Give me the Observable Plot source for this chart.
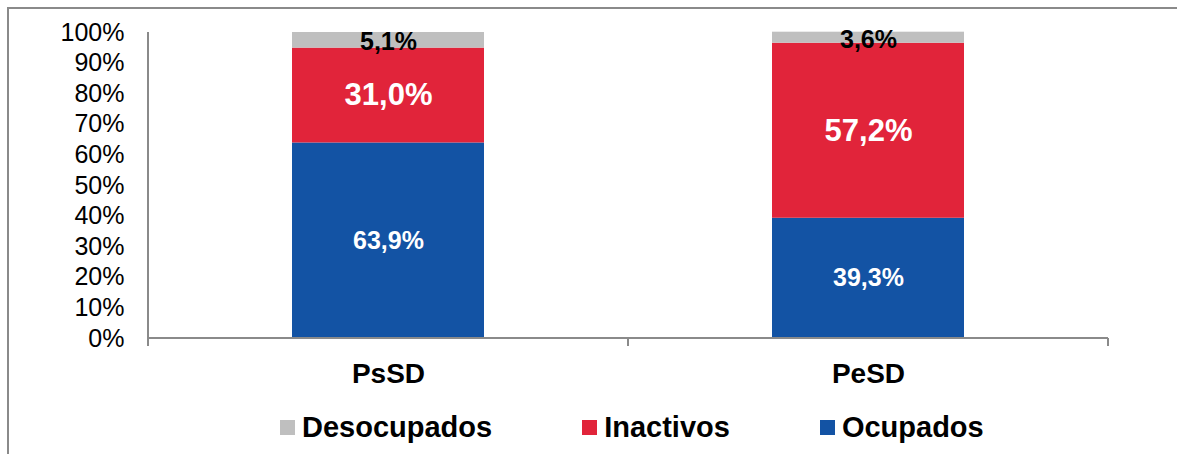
<!DOCTYPE html>
<html>
<head>
<meta charset="utf-8">
<script src="https://cdn.jsdelivr.net/npm/d3@7"></script>
<script src="https://cdn.jsdelivr.net/npm/@observablehq/plot@0.6"></script>
<style>
  html, body { margin: 0; padding: 0; background: #fff; }
  #wrap { position: relative; width: 1177px; height: 454px; overflow: hidden; font-family: "Liberation Sans", Arial, sans-serif; }
  #frame { position: absolute; left: 7px; top: 7px; width: 2000px; height: 2000px; border-left: 2px solid #8a8a8a; border-top: 2px solid #8a8a8a; }
  #chart { position: absolute; left: 0; top: 0; }
  #legend { position: absolute; left: 280px; top: 413px; display: flex; gap: 90px; font-weight: bold; font-size: 29px; line-height: 29px; color: #000; }
  .item { display: flex; align-items: center; }
  .sw { width: 15px; height: 15px; margin-right: 7px; }
</style>
</head>
<body>
<div id="wrap">
  <div id="frame"></div>
  <div id="chart"></div>
  <div id="legend"></div>
</div>
<script>
const categories = ["PsSD", "PeSD"];
const series = ["Desocupados", "Inactivos", "Ocupados"];
const ocupados = [63.9, 39.3];
const inactivos = [31.0, 57.2];
const desocupados = [5.1, 3.6];
const yTicks = [0, 10, 20, 30, 40, 50, 60, 70, 80, 90, 100];
const colors = ["#BFBFBF", "#E1243A", "#1353A4"];

const stackOrder = ["Ocupados", "Inactivos", "Desocupados"];
const valuesBySeries = { Ocupados: ocupados, Inactivos: inactivos, Desocupados: desocupados };
const data = [];
categories.forEach((c, i) => {
  stackOrder.forEach(s => data.push({ cat: c, series: s, value: valuesBySeries[s][i] }));
});
const fmt = v => v.toFixed(1).replace(".", ",") + "%";
const axisColor = "#8a8a8a";

const W = 1177, H = 400;
const plot = Plot.plot({
  width: W,
  height: H,
  marginLeft: 148,
  marginRight: 69,
  marginTop: 32,
  marginBottom: 62,
  style: { fontFamily: "'Liberation Sans', Arial, sans-serif", background: "transparent", color: "#000" },
  x: { domain: categories, paddingInner: 0.6, paddingOuter: 0.3, label: null },
  y: { domain: [0, 100], label: null },
  color: { domain: series, range: colors },
  marks: [
    Plot.barY(data, Plot.stackY({ x: "cat", y: "value", z: "series", fill: "series", order: stackOrder })),
    Plot.text(data, Plot.stackY({
      x: "cat", y: "value", z: "series", order: stackOrder,
      text: d => d.series === "Desocupados" ? fmt(d.value) : "",
      fill: "#000", fontWeight: "bold", fontSize: 25, dy: 2
    })),
    Plot.text(data, Plot.stackY({
      x: "cat", y: "value", z: "series", order: stackOrder,
      text: d => d.series !== "Desocupados" ? fmt(d.value) : "",
      fill: "#fff", fontWeight: "bold",
      fontSize: d => d.series === "Inactivos" ? 31 : 25
    })),
    Plot.axisY({ ticks: yTicks, tickFormat: d => d + "%", tickSize: 0, tickPadding: 24, fontSize: 25, label: null }),
    Plot.axisX({ tickSize: 0, tickPadding: 25, fontSize: 28, fontWeight: "bold", label: null }),
    (index, scales, values, dims) => {
      const g = d3.create("svg:g").attr("stroke", axisColor).attr("stroke-width", 2).attr("fill", "none");
      const x0 = dims.marginLeft, x1 = dims.width - dims.marginRight;
      const y0 = scales.y(0), yTop = scales.y(100);
      g.append("line").attr("x1", x0).attr("x2", x0).attr("y1", yTop).attr("y2", y0 + 8);
      g.append("line").attr("x1", x0).attr("x2", x1).attr("y1", y0).attr("y2", y0);
      const n = categories.length;
      for (let i = 0; i <= n; i++) {
        const xx = x0 + (x1 - x0) * i / n;
        g.append("line").attr("x1", xx).attr("x2", xx).attr("y1", y0).attr("y2", y0 + 8);
      }
      return g.node();
    }
  ]
});
document.getElementById("chart").appendChild(plot);

const legend = document.getElementById("legend");
series.forEach((s, i) => {
  const it = document.createElement("div");
  it.className = "item";
  const sw = document.createElement("div");
  sw.className = "sw";
  sw.style.background = colors[i];
  const t = document.createElement("span");
  t.textContent = s;
  it.appendChild(sw);
  it.appendChild(t);
  legend.appendChild(it);
});
</script>
</body>
</html>
